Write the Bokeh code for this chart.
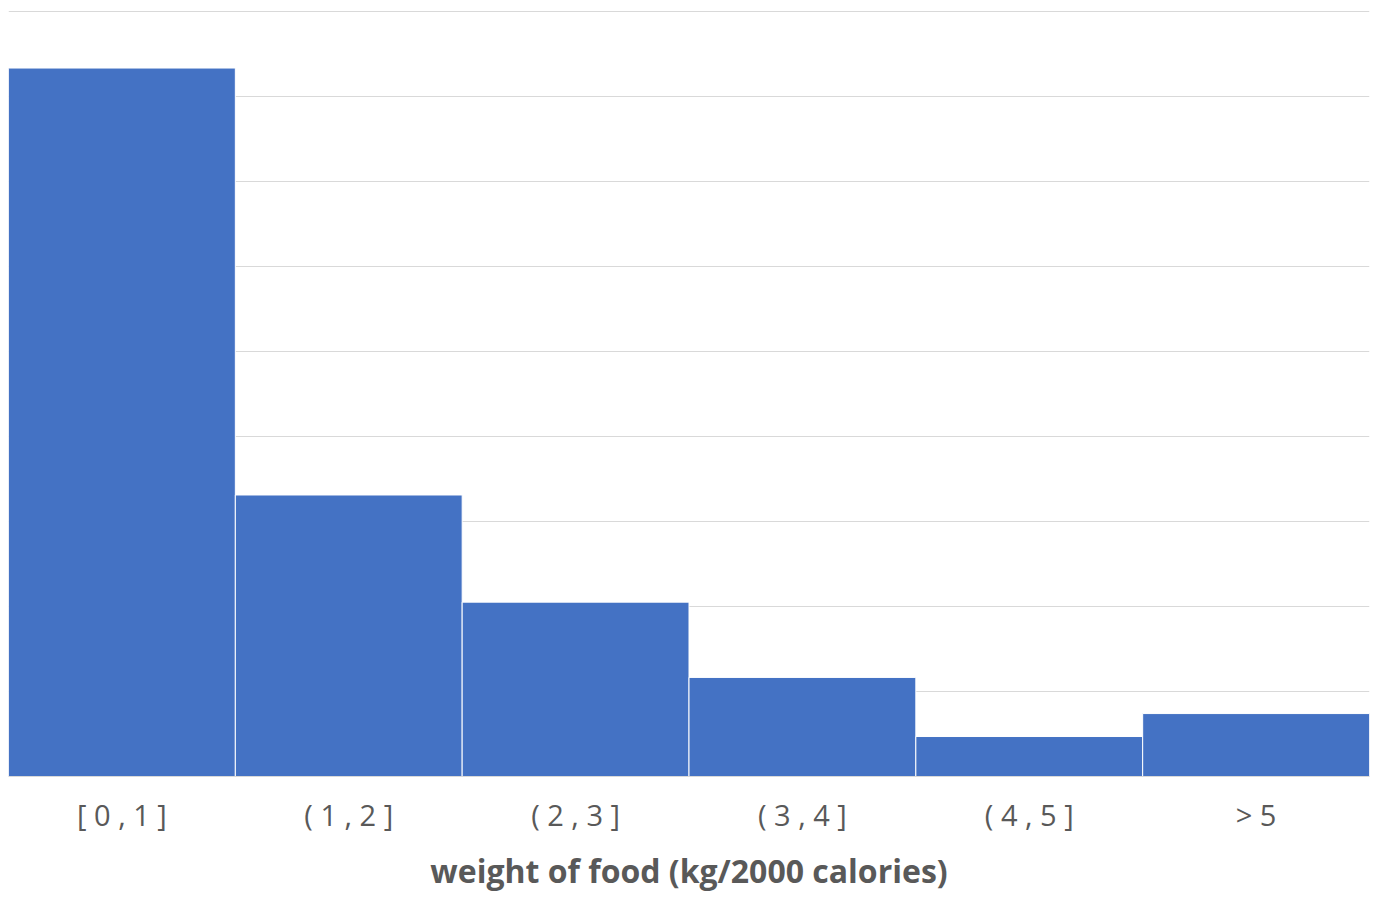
from bokeh.plotting import figure
from bokeh.models import FactorRange, Range1d, SingleIntervalTicker, ColumnDataSource
from bokeh.embed import file_html
from bokeh.resources import INLINE

bins = ["[ 0 , 1 ]", "( 1 , 2 ]", "( 2 , 3 ]", "( 3 , 4 ]", "( 4 , 5 ]", "> 5"]
counts = [8.33, 3.31, 2.05, 1.165, 0.47, 0.74]
x_title = "weight of food (kg/2000 calories)"

src = ColumnDataSource(dict(bins=bins, counts=counts))

p = figure(width=1373, height=894, x_range=FactorRange(*bins), y_range=Range1d(0, 9.03),
           output_backend="svg", toolbar_location=None,
           min_border_left=8, min_border_right=4, min_border_top=8, min_border_bottom=10)
p.outline_line_color = None
p.background_fill_color = "white"
p.border_fill_color = "white"

p.vbar(x="bins", top="counts", width=1.0, source=src, fill_color="#4472C4",
       line_color="white", line_width=1)

p.x_range.range_padding = 0
p.yaxis.visible = False
p.ygrid.ticker = SingleIntervalTicker(interval=1)
p.ygrid.grid_line_color = "#D9D9D9"
p.ygrid.grid_line_width = 1
p.xgrid.grid_line_color = None

ax = p.xaxis[0]
ax.axis_line_color = "#D9D9D9"
ax.axis_line_width = 1
ax.major_tick_line_color = None
ax.minor_tick_line_color = None
ax.major_label_text_font = "Open Sans"
ax.major_label_text_font_size = "29px"
ax.major_label_text_color = "#595959"
ax.major_label_standoff = 12
ax.axis_label = x_title
ax.axis_label_text_font = "Open Sans"
ax.axis_label_text_font_style = "bold"
ax.axis_label_text_font_size = "32px"
ax.axis_label_text_color = "#595959"
ax.axis_label_standoff = 12

open("out.html", "w").write(file_html(p, INLINE))
